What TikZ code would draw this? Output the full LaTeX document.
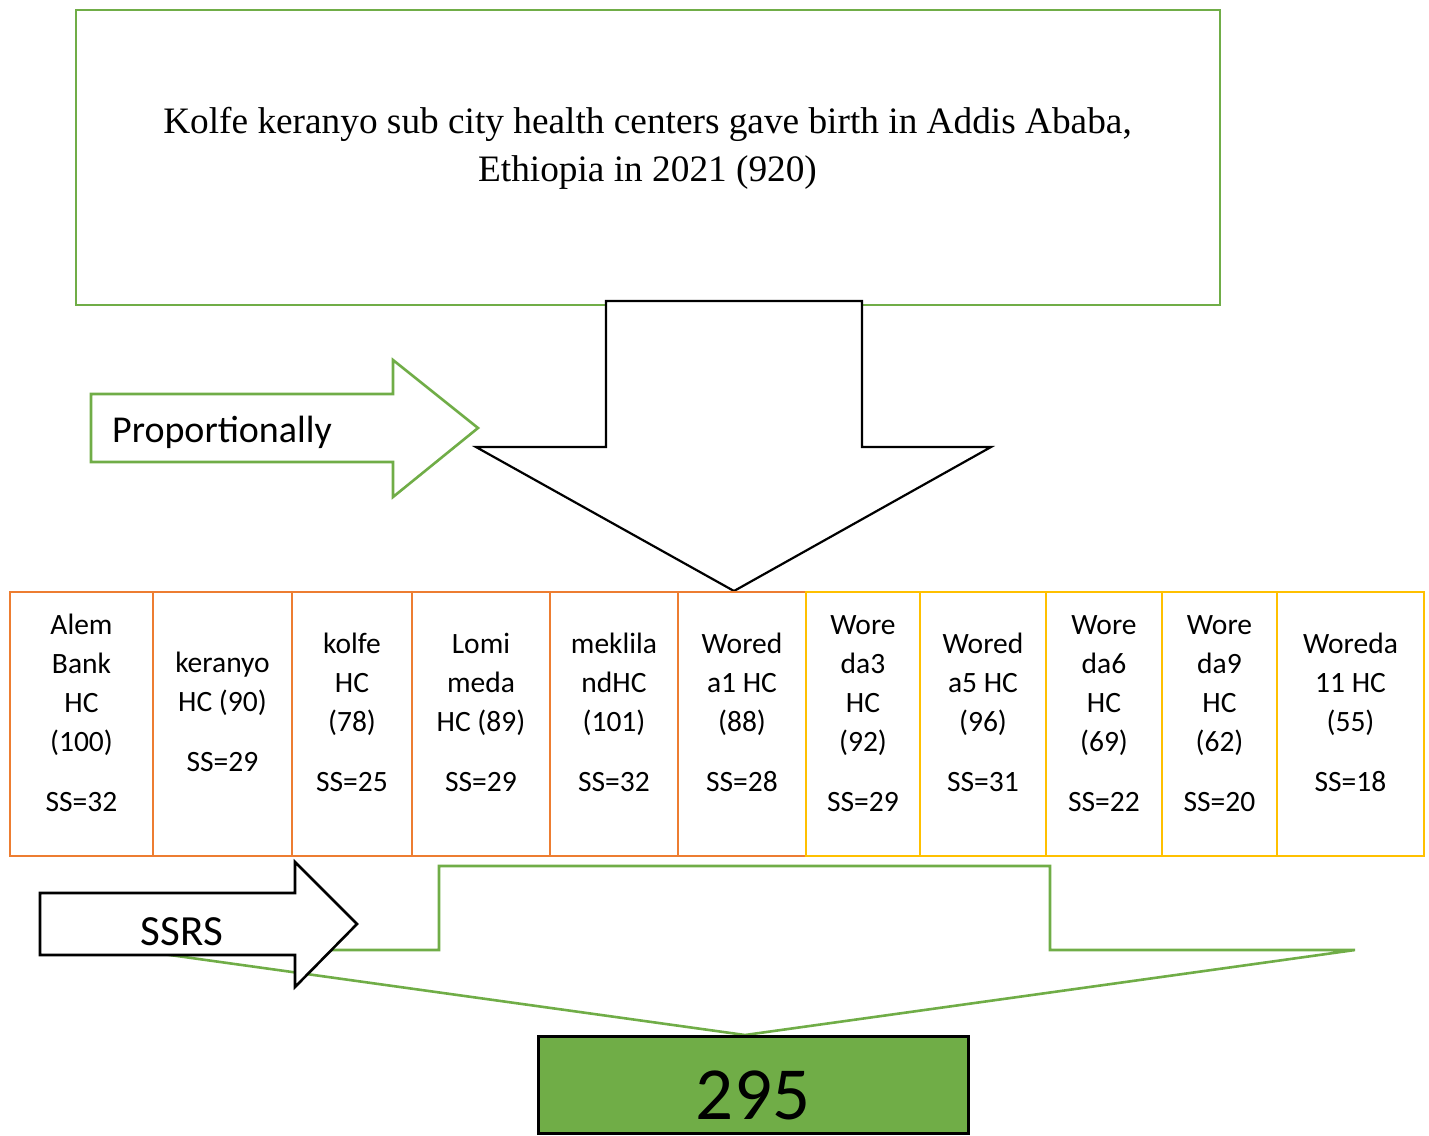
\documentclass[tikz,border=0pt]{standalone}
\usepackage{fontspec}
\setmainfont{Carlito}
\newfontfamily\titlefont{Liberation Serif}
\definecolor{cgreen}{HTML}{70AD47}
\definecolor{corange}{HTML}{ED7D31}
\definecolor{cyellow}{HTML}{FFC000}
\begin{document}
\begin{tikzpicture}[x=1pt,y=-1pt,
  titlebox/.style={draw=cgreen, line width=2.2pt, minimum width=1144pt, minimum height=295pt, inner sep=0pt},
  titletext/.style={align=center, inner sep=0pt, font=\titlefont\fontsize{37.3}{48}\selectfont},
  orangecell/.style={draw=corange, line width=2.8pt},
  yellowcell/.style={draw=cyellow, line width=2.8pt},
  celltext/.style={align=center, inner sep=0pt, font=\fontsize{29.5}{39}\selectfont},
  blackarrow/.style={draw=black, line width=2.2pt, fill=white, line join=miter},
  greenarrow/.style={draw=cgreen, line width=2.6pt, fill=white, line join=miter},
  resultbox/.style={draw=black, line width=3pt, fill=cgreen, minimum width=430pt, minimum height=97pt, inner sep=0pt}
]
\useasboundingbox (0,0) rectangle (1429,1135);

% title box
\node[titlebox] (top) at (648,157.5) {};
\node[titletext] (title) at (647.5,148.5) {Kolfe keranyo sub city health centers gave birth in Addis Ababa,\\Ethiopia in 2021 (920)};

% big black down arrow
\draw[blackarrow] (606,301) -- (862,301) -- (862,447) -- (991,447) -- (734,591) -- (476,447) -- (606,447) -- cycle;

% Proportionally arrow
\draw[greenarrow] (91,394) -- (393,394) -- (393,360) -- (478,428) -- (393,497) -- (393,462) -- (91,462) -- cycle;
\node[anchor=base west, inner sep=0pt, font=\fontsize{38}{46}\selectfont] (prop) at (112,442) {Proportionally};

% cells
\draw[orangecell] (10,592) rectangle (153,856);
\draw[orangecell] (153,592) rectangle (292,856);
\draw[orangecell] (292,592) rectangle (412,856);
\draw[orangecell] (412,592) rectangle (550,856);
\draw[orangecell] (550,592) rectangle (678,856);
\draw[orangecell] (678,592) rectangle (806,856);
\draw[yellowcell] (806,592) rectangle (920,856);
\draw[yellowcell] (920,592) rectangle (1046,856);
\draw[yellowcell] (1046,592) rectangle (1162,856);
\draw[yellowcell] (1162,592) rectangle (1277,856);
\draw[yellowcell] (1277,592) rectangle (1424,856);

\node[celltext] (c1) at (81.5,713) {Alem\\Bank\\HC\\(100)\\[21pt]SS=32};
\node[celltext] (c2) at (222.5,712) {keranyo\\HC (90)\\[21pt]SS=29};
\node[celltext] (c3) at (352,712) {kolfe\\HC\\(78)\\[21pt]SS=25};
\node[celltext] (c4) at (481,712) {Lomi\\meda\\HC (89)\\[21pt]SS=29};
\node[celltext] (c5) at (614,712) {meklila\\ndHC\\(101)\\[21pt]SS=32};
\node[celltext] (c6) at (742,712) {Wored\\a1 HC\\(88)\\[21pt]SS=28};
\node[celltext] (c7) at (863,713.5) {Wore\\da3\\HC\\(92)\\[21pt]SS=29};
\node[celltext] (c8) at (983,712) {Wored\\a5 HC\\(96)\\[21pt]SS=31};
\node[celltext] (c9) at (1104,713.5) {Wore\\da6\\HC\\(69)\\[21pt]SS=22};
\node[celltext] (c10) at (1219.5,713.5) {Wore\\da9\\HC\\(62)\\[21pt]SS=20};
\node[celltext] (c11) at (1350.5,712) {Woreda\\11 HC\\(55)\\[21pt]SS=18};

% green down arrow
\draw[greenarrow] (439,866) -- (1050,866) -- (1050,950) -- (1355,950) -- (745,1035) -- (134,950) -- (439,950) -- cycle;

% SSRS arrow
\draw[blackarrow, line width=2.6pt] (40,893) -- (295,893) -- (295,862) -- (357,924) -- (295,987) -- (295,955) -- (40,955) -- cycle;
\node[anchor=base, inner sep=0pt, font=\fontsize{43}{50}\selectfont] (ssrs) at (182,945) {SSRS};

% result box
\node[resultbox] (res) at (753,1084.5) {};
\node[anchor=base, inner sep=0pt, font=\fontsize{75}{80}\selectfont] (restext) at (753,1119) {295};
\end{tikzpicture}
\end{document}
